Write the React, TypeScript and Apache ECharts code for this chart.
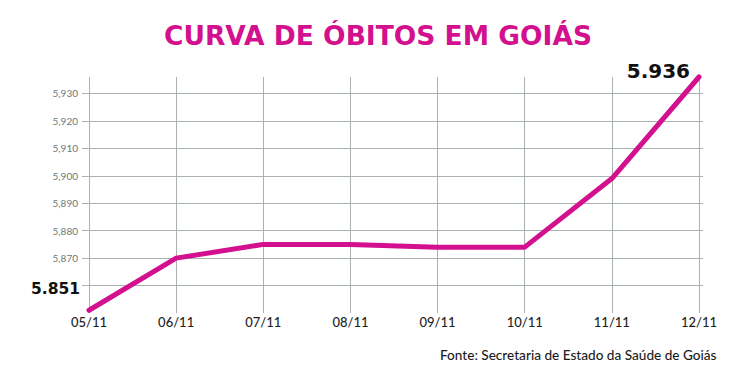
import React, { useEffect, useRef } from "react";
import * as echarts from "echarts";

const categories = ["05/11", "06/11", "07/11", "08/11", "09/11", "10/11", "11/11", "12/11"];
const deaths = [5851, 5870, 5875, 5875, 5874, 5874, 5899, 5936];
const yMin = 5850;
const yMax = 5936;
const yStep = 10;
const labeledFrom = 5870;
const labeledTo = 5930;
const titleText = "CURVA DE ÓBITOS EM GOIÁS";
const sourceText = "Fonte: Secretaria de Estado da Saúde de Goiás";

const MAGENTA = "#d3108d";
const GRID = "#a9b2b0";
const FONT = "Lato, 'Open Sans', sans-serif";
const HEAVY = "'DejaVu Sans', Lato, sans-serif";

const fmtThousandDot = (v: number) => {
  const s = String(Math.round(v));
  return s.slice(0, s.length - 3) + "." + s.slice(s.length - 3);
};

export default function App() {
  const ref = useRef<HTMLDivElement>(null);
  useEffect(() => {
    if (!ref.current) return;
    const chart = echarts.init(ref.current, null, { renderer: "svg" });
    const last = deaths.length - 1;
    const seriesData = deaths.map((v, i) => {
      if (i === 0) {
        return {
          value: v,
          label: {
            show: true,
            position: "left",
            distance: 8,
            offset: [0, -21],
            fontSize: 15.5,
          },
        };
      }
      if (i === last) {
        return {
          value: v,
          label: {
            show: true,
            position: "left",
            distance: 8,
            offset: [0, -6],
            fontSize: 20,
          },
        };
      }
      return { value: v };
    });
    chart.setOption({
      animation: false,
      backgroundColor: "#ffffff",
      title: [
        {
          text: titleText,
          left: "center",
          top: 17,
          textStyle: {
            color: MAGENTA,
            fontSize: 26.5,
            fontWeight: "bold",
            fontFamily: HEAVY,
          },
        },
        {
          text: sourceText,
          left: 435,
          top: 343,
          textStyle: {
            color: "#1c1c1c",
            fontSize: 13.6,
            fontWeight: 500,
            fontFamily: FONT,
          },
        },
      ],
      grid: [
        { left: 89, right: 57, top: 77, bottom: 74 },
        { left: 82, right: 53, top: 77, bottom: 74 },
      ],
      xAxis: [
        {
          gridIndex: 0,
          type: "category",
          data: categories,
          boundaryGap: false,
          axisLine: { show: false },
          axisTick: { show: false },
          axisLabel: {
            margin: 2,
            fontSize: 13,
            color: "#1e1e1e",
            fontFamily: FONT,
            fontWeight: 500,
          },
          splitLine: { show: true, lineStyle: { color: GRID, width: 1 } },
        },
        { gridIndex: 1, type: "value", min: 0, max: 1, show: false },
      ],
      yAxis: [
        {
          gridIndex: 0,
          type: "value",
          min: yMin,
          max: yMax,
          interval: yStep,
          axisLine: { show: false },
          axisTick: { show: false },
          splitLine: { show: false },
          axisLabel: {
            margin: 11,
            fontSize: 10,
            color: "#6d7977",
            fontFamily: FONT,
            showMinLabel: false,
            showMaxLabel: false,
            formatter: (v: number) =>
              v >= labeledFrom && v <= labeledTo && v % yStep === 0
                ? String(v).slice(0, 1) + "," + String(v).slice(1)
                : "",
          },
        },
        {
          gridIndex: 1,
          type: "value",
          min: yMin,
          max: yMax,
          interval: yStep,
          axisLine: { show: false },
          axisTick: { show: false },
          axisLabel: { show: false },
          splitLine: {
            show: true,
            showMinLine: false,
            showMaxLine: false,
            lineStyle: { color: GRID, width: 1 },
          },
        },
      ],
      series: [
        {
          type: "line",
          xAxisIndex: 0,
          yAxisIndex: 0,
          data: seriesData,
          symbol: "circle",
          symbolSize: 2,
          showSymbol: true,
          itemStyle: { color: MAGENTA },
          clip: false,
          lineStyle: { color: MAGENTA, width: 5, cap: "round", join: "round" },
          label: {
            show: false,
            color: "#111111",
            fontWeight: "bold",
            fontFamily: HEAVY,
            formatter: (p: any) => fmtThousandDot(p.value),
          },
          z: 5,
        },
      ],
    });
    return () => chart.dispose();
  }, []);
  return (
    <div
      ref={ref}
      style={{ position: "fixed", left: 0, top: 0, width: 756, height: 387 }}
    />
  );
}
